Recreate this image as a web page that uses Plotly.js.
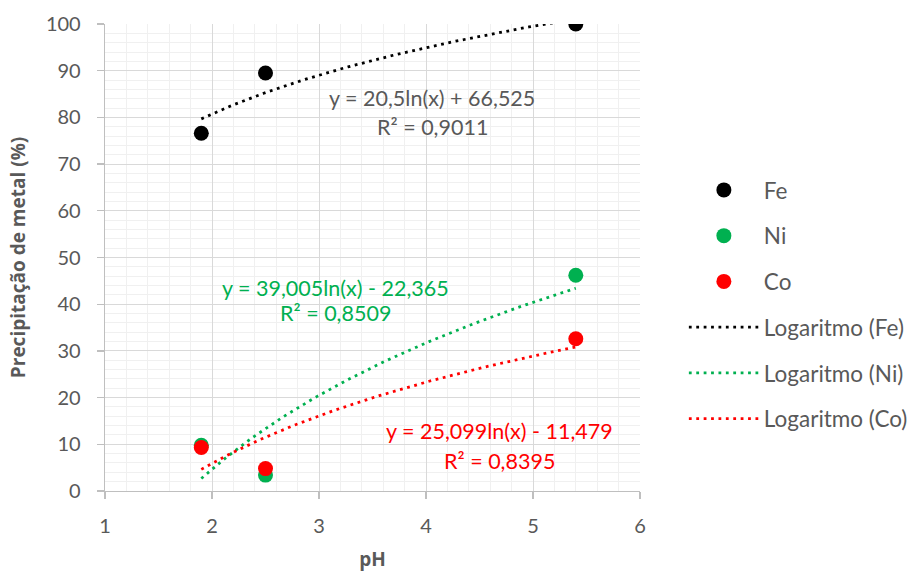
<!DOCTYPE html>
<html><head><meta charset="utf-8">
<script src="https://cdn.plot.ly/plotly-3.0.1.min.js"></script>
<style>html,body{margin:0;padding:0;background:#fff}#chart{width:910px;height:572px}</style>
</head><body><div id="chart"></div>
<script>
// ---- data ----
const phValues = [1.9, 2.5, 5.4];
const feValues = [76.6, 89.5, 100];
const niValues = [9.8, 3.4, 46.2];
const coValues = [9.3, 4.8, 32.6];
const seriesNames = ['Fe', 'Ni', 'Co'];
// logarithmic trendline coefficients as printed on the chart: y = a ln(x) + b
const trendSlopes = [20.5, 39.005, 25.099];
const trendIntercepts = [66.525, -22.365, -11.479];
const trendR2 = [0.9011, 0.8509, 0.8395];
const xTickValues = [1, 2, 3, 4, 5, 6];
const yTickValues = [0, 10, 20, 30, 40, 50, 60, 70, 80, 90, 100];

// ---- styling ----
const seriesColors = ['#000000', '#00b050', '#ff0000'];
const labelColors = ['#595959', '#00b050', '#ff0000'];
const textGray = '#595959';
const FONT = 'Lato, "Open Sans", sans-serif';
const allValues = [feValues, niValues, coValues];

const fmt = v => String(v).replace('.', ',');
const traces = [];
seriesNames.forEach((name, i) => {
  traces.push({
    type: 'scatter', mode: 'markers', name: name,
    x: phValues, y: allValues[i],
    marker: {color: seriesColors[i], size: 15},
    legendgroup: 'g' + i, cliponaxis: true
  });
});
seriesNames.forEach((name, i) => {
  const xmin = Math.min(...phValues), xmax = Math.max(...phValues);
  const xs = [], ys = [];
  const n = 120;
  for (let k = 0; k <= n; k++) {
    const x = xmin + (xmax - xmin) * k / n;
    xs.push(x);
    ys.push(trendSlopes[i] * Math.log(x) + trendIntercepts[i]);
  }
  traces.push({
    type: 'scatter', mode: 'lines', name: 'Logaritmo (' + name + ')',
    x: xs, y: ys,
    line: {color: seriesColors[i], width: 2.8, dash: '2.8px,4.6px'},
    legendgroup: 'h' + i, hoverinfo: 'skip'
  });
});

function eqText(i) {
  const b = trendIntercepts[i];
  return 'y = ' + fmt(trendSlopes[i]) + 'ln(x) ' + (b < 0 ? '- ' : '+ ') + fmt(Math.abs(b));
}
const labelPos = [
  {x: 4.06, y1: 84.2, y2: 77.9},
  {x: 3.15, y1: 43.5, y2: 38.1},
  {x: 4.69, y1: 12.9, y2: 6.4}
];
const annotations = [];
labelPos.forEach((p, i) => {
  annotations.push({xref: 'x', yref: 'y', x: p.x, y: p.y1, text: eqText(i), showarrow: false,
    font: {family: FONT, size: 21.5, color: labelColors[i]}, xanchor: 'center', yanchor: 'middle'});
  annotations.push({xref: 'x', yref: 'y', x: p.x, y: p.y2, text: 'R² = ' + fmt(trendR2[i]), showarrow: false,
    font: {family: FONT, size: 21.5, color: labelColors[i]}, xanchor: 'center', yanchor: 'middle'});
});

const layout = {
  width: 910, height: 572,
  margin: {l: 105, r: 270, t: 24, b: 81, pad: 0, autoexpand: false},
  paper_bgcolor: '#ffffff', plot_bgcolor: '#ffffff',
  font: {family: FONT, size: 20, color: textGray},
  showlegend: true,
  legend: {
    x: 1.082, xanchor: 'left', y: 0.690, yanchor: 'top',
    font: {family: FONT, size: 22.5, color: textGray},
    tracegroupgap: 13.5, itemwidth: 70, bgcolor: 'rgba(0,0,0,0)'
  },
  xaxis: {
    range: [1, 6], tickvals: xTickValues, ticktext: xTickValues.map(String),
    showgrid: true, gridcolor: '#d9d9d9', gridwidth: 1,
    minor: {dtick: 0.2, showgrid: true, gridcolor: '#f0f0f0', gridwidth: 1},
    showline: true, linecolor: '#bfbfbf', linewidth: 1.3,
    ticks: 'outside', ticklen: 7, tickcolor: '#bfbfbf', tickwidth: 1.3,
    ticklabelstandoff: 10,
    zeroline: false, automargin: false,
    tickfont: {family: FONT, size: 20, color: textGray},
    title: {text: 'pH', standoff: 19, font: {family: '"Open Sans", sans-serif', size: 19, weight: 700, color: textGray}}
  },
  yaxis: {
    range: [0, 100], tickvals: yTickValues, ticktext: yTickValues.map(String),
    showgrid: true, gridcolor: '#d9d9d9', gridwidth: 1,
    minor: {dtick: 2, showgrid: true, gridcolor: '#f0f0f0', gridwidth: 1},
    showline: true, linecolor: '#bfbfbf', linewidth: 1.3,
    ticks: 'outside', ticklen: 7, tickcolor: '#bfbfbf', tickwidth: 1.3,
    ticklabelstandoff: 12,
    zeroline: false, automargin: false,
    tickfont: {family: FONT, size: 20, color: textGray},
    title: {text: 'Precipitação de metal (%)', standoff: 15, font: {family: '"Open Sans", sans-serif', size: 19, weight: 700, color: textGray}}
  },
  annotations: annotations
};
Plotly.newPlot('chart', traces, layout, {displayModeBar: false, staticPlot: true});
</script>
</body></html>
